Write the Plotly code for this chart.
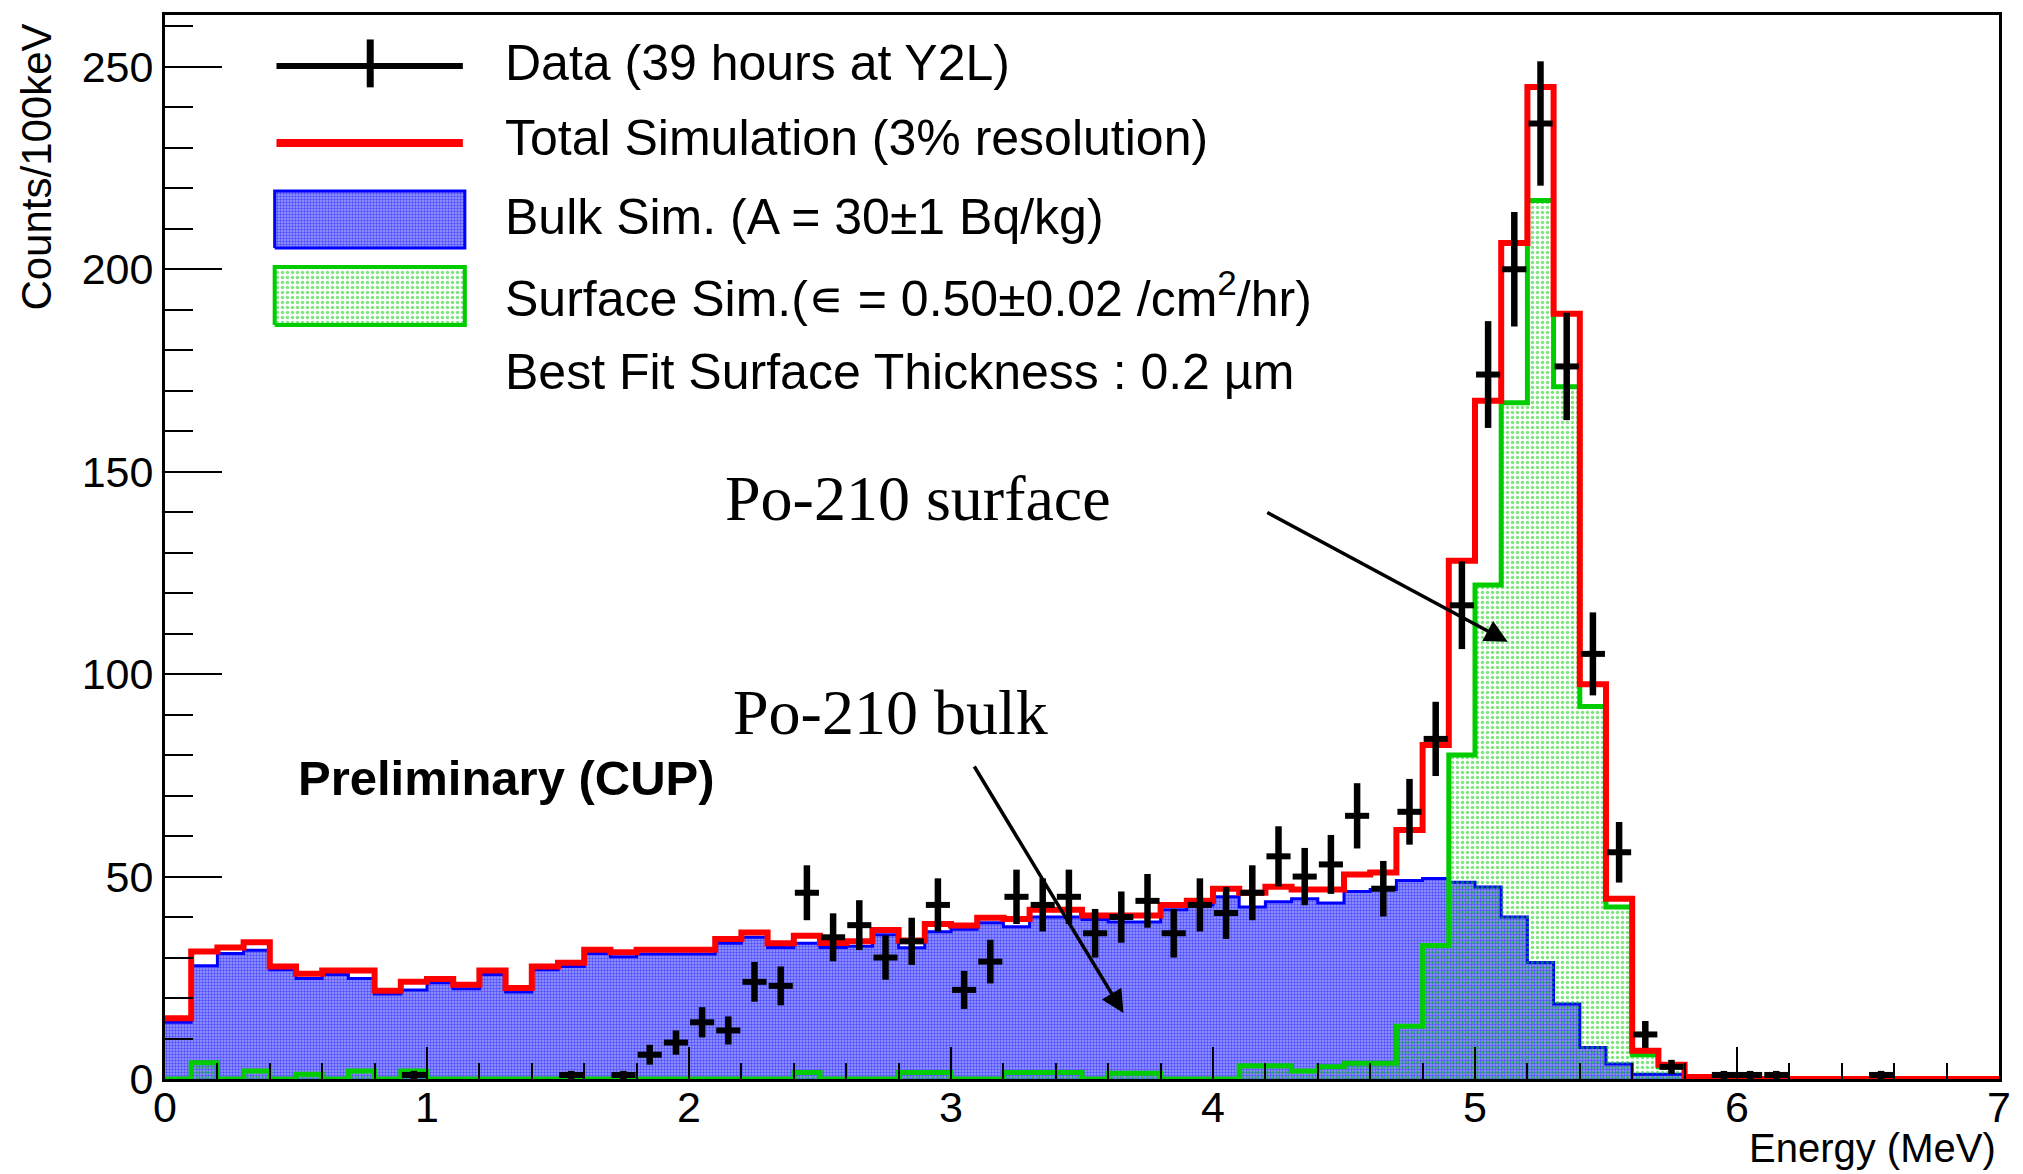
import plotly.graph_objects as go

# ---------------- data ----------------
N_BINS = 70
BIN_W = 0.1
X_MAX = 7.0
bin_left = [round(i * BIN_W, 1) for i in range(N_BINS)]

# Total simulation (red)
total_sim = [15.0, 31.5, 32.5, 33.8, 27.8, 26.0, 26.8, 26.8, 21.8, 24.0,
             24.7, 23.3, 26.8, 22.5, 27.8, 28.7, 31.9, 31.3, 31.9, 31.9,
             31.9, 34.6, 36.2, 33.5, 35.4, 33.6, 34.0, 36.8, 34.2, 38.3,
             37.9, 39.8, 39.5, 41.8, 41.8, 40.4, 40.4, 40.4, 43.0, 44.0,
             47.0, 46.0, 47.5, 46.8, 46.8, 50.5, 51.0, 61.5, 82.5, 128.0,
             167.5, 206.5, 245.0, 189.0, 97.5, 44.5, 7.0, 3.5, 0.5, 0.0,
             0.0, 0.0, 0.0, 0.0, 0.0, 0.0, 0.0, 0.0, 0.0, 0.0]

# Bulk simulation (blue)
bulk_sim = [14.0, 28.0, 31.0, 31.8, 27.0, 24.8, 25.8, 24.8, 21.0, 22.0,
            23.8, 22.3, 25.8, 21.5, 27.0, 27.8, 31.0, 30.2, 30.9, 30.9,
            30.9, 33.5, 35.0, 32.5, 33.5, 32.5, 32.8, 35.6, 32.4, 36.4,
            37.0, 38.6, 37.6, 40.0, 40.0, 39.4, 38.8, 38.8, 41.8, 43.0,
            45.0, 42.5, 43.8, 44.5, 43.5, 46.3, 46.8, 49.0, 49.5, 48.6,
            47.4, 40.0, 28.8, 18.5, 7.8, 3.7, 1.2, 1.2, 0.0, 0.0,
            0.0, 0.0, 0.0, 0.0, 0.0, 0.0, 0.0, 0.0, 0.0, 0.0]

# Surface simulation (green)
surface_sim = [0.0, 4.0, 0.0, 2.0, 0.0, 1.2, 0.0, 2.0, 0.0, 2.0,
               0.0, 0.0, 0.0, 0.0, 0.0, 0.0, 0.0, 0.0, 0.0, 0.0,
               0.0, 0.0, 0.0, 0.0, 1.6, 0.0, 0.0, 0.0, 1.6, 1.6,
               0.0, 0.0, 1.6, 1.6, 1.6, 0.0, 1.4, 1.4, 0.0, 0.0,
               0.0, 3.3, 3.3, 2.0, 3.0, 3.9, 3.9, 13.0, 33.0, 80.0,
               122.0, 167.0, 217.0, 171.0, 92.0, 42.5, 6.0, 3.0, 0.0, 0.0,
               0.0, 0.0, 0.0, 0.0, 0.0, 0.0, 0.0, 0.0, 0.0, 0.0]

# Data (39 hours at Y2L); None = empty bin
data_counts = [None, None, None, None, None, None, None, None, None, 1,
               None, None, None, None, None, 1, None, 1, 6, 9,
               14, 12, 24, 23, 46, 35, 38, 30, 34, 43,
               22, 29, 45, 43, 45, 36, 40, 44, 36, 43,
               41, 46, 55, 50, 53, 65, 47, 66, 84, 117,
               174, 200, 236, 176, 105, 56, 11, 3, None, 1,
               1, 1, None, None, None, 1, None, None, None, None]
data_err = [None, None, None, None, None, None, None, None, None, 1.0,
            None, None, None, None, None, 1.0, None, 1.0, 2.45, 3.0,
            3.74, 3.46, 4.9, 4.8, 6.78, 5.92, 6.16, 5.48, 5.83, 6.56,
            4.69, 5.39, 6.71, 6.56, 6.71, 6.0, 6.32, 6.63, 6.0, 6.56,
            6.4, 6.78, 7.42, 7.07, 7.28, 8.06, 6.86, 8.12, 9.17, 10.82,
            13.19, 14.14, 15.36, 13.27, 10.25, 7.48, 3.32, 1.73, None, 1.0,
            1.0, 1.0, None, None, None, 1.0, None, None, None, None]

x_ticks = [0, 1, 2, 3, 4, 5, 6, 7]
y_ticks = [0, 50, 100, 150, 200, 250]

legend_labels = ["Data (39 hours at Y2L)",
                 "Total Simulation (3% resolution)",
                 "Bulk Sim. (A = 30±1 Bq/kg)",
                 "Surface Sim.(∊ = 0.50±0.02 /cm<sup>2</sup>/hr)",
                 "Best Fit Surface Thickness : 0.2 µm"]

# ---------------- styling ----------------
SANS = "Liberation Sans, Arial, Helvetica, sans-serif"
SERIF = "Liberation Serif, Times New Roman, serif"
BLUE = "#0000ff"
GREEN = "#00cc00"
RED = "#ff0000"
BLUE_PATTERN = dict(shape=".", fgcolor=BLUE, bgcolor="rgba(0,0,255,0.38)",
                    size=3, solidity=0.5)
GREEN_PATTERN = dict(shape=".", fgcolor=GREEN, bgcolor="rgba(0,0,0,0)",
                     size=5, solidity=0.38)


def step_xy(vals):
    return bin_left + [X_MAX], list(vals) + [vals[-1]]


fig = go.Figure()

bx, by = step_xy(bulk_sim)
fig.add_trace(go.Scatter(
    x=bx, y=by, mode="lines", line=dict(shape="hv", color=BLUE, width=3),
    fill="tozeroy", fillcolor="rgba(0,0,0,0)", fillpattern=BLUE_PATTERN,
    showlegend=False, hoverinfo="skip"))

gx, gy = step_xy(surface_sim)
fig.add_trace(go.Scatter(
    x=gx, y=gy, mode="lines", line=dict(shape="hv", color=GREEN, width=5),
    fill="tozeroy", fillcolor="rgba(0,0,0,0)", fillpattern=GREEN_PATTERN,
    showlegend=False, hoverinfo="skip"))

rx, ry = step_xy(total_sim)
fig.add_trace(go.Scatter(
    x=rx, y=ry, mode="lines", line=dict(shape="hv", color=RED, width=6),
    showlegend=False, hoverinfo="skip"))

dx, dy, de = [], [], []
for xl, c, e in zip(bin_left, data_counts, data_err):
    if c is not None:
        dx.append(xl + BIN_W / 2)
        dy.append(c)
        de.append(e)
fig.add_trace(go.Scatter(
    x=dx, y=dy, mode="markers", marker=dict(size=2, color="black"),
    error_x=dict(type="constant", value=BIN_W * 0.46, thickness=6, width=0, color="black"),
    error_y=dict(type="data", array=de, thickness=6.5, width=0, color="black"),
    showlegend=False, hoverinfo="skip"))

# ---------------- legend (drawn manually, paper-like overlay axes) ----------------
box_x = [0.0598, 0.1635]
blue_box_y = [0.781, 0.8346]
green_box_y = [0.7086, 0.7632]
for (y0, y1), col, pat, lw in [(blue_box_y, BLUE, BLUE_PATTERN, 3),
                               (green_box_y, GREEN, GREEN_PATTERN, 4)]:
    fig.add_trace(go.Scatter(
        x=[box_x[0], box_x[1], box_x[1], box_x[0], box_x[0]],
        y=[y0, y0, y1, y1, y0], xaxis="x2", yaxis="y2",
        mode="lines", line=dict(color=col, width=lw), fill="toself",
        fillcolor="rgba(0,0,0,0)", fillpattern=pat,
        showlegend=False, hoverinfo="skip"))

shapes = [
    dict(type="line", xref="paper", yref="paper", x0=0.0608, x1=0.1624,
         y0=0.952, y1=0.952, line=dict(color="black", width=6)),
    dict(type="line", xref="paper", yref="paper", x0=0.1119, x1=0.1119,
         y0=0.932, y1=0.977, line=dict(color="black", width=7)),
    dict(type="line", xref="paper", yref="paper", x0=0.0608, x1=0.1624,
         y0=0.8797, y1=0.8797, line=dict(color=RED, width=8)),
]

legend_y = [0.9549, 0.8844, 0.8102, 0.7368, 0.6645]
annotations = []
for lab, yy in zip(legend_labels, legend_y):
    annotations.append(dict(text=lab, xref="paper", yref="paper", x=0.1841, y=yy,
                            xanchor="left", yanchor="middle", showarrow=False,
                            font=dict(family=SANS, size=50, color="black")))

annotations += [
    dict(text="<b>Preliminary (CUP)</b>", xref="paper", yref="paper", x=0.0717, y=0.283,
         xanchor="left", yanchor="middle", showarrow=False,
         font=dict(family=SANS, size=49, color="black")),
    dict(text="Po-210 surface", xref="paper", yref="paper", x=0.3042, y=0.546,
         xanchor="left", yanchor="middle", showarrow=False,
         font=dict(family=SERIF, size=64, color="black")),
    dict(text="Po-210 bulk", xref="paper", yref="paper", x=0.3085, y=0.344,
         xanchor="left", yanchor="middle", showarrow=False,
         font=dict(family=SERIF, size=64, color="black")),
    dict(text="", x=5.125, y=108, xref="x", yref="y", ax=-242, ay=-130,
         showarrow=True, arrowhead=2, arrowsize=1.3, arrowwidth=3.5, arrowcolor="black"),
    dict(text="", x=3.658, y=16.3, xref="x", yref="y", ax=-150, ay=-248,
         showarrow=True, arrowhead=2, arrowsize=1.3, arrowwidth=3.5, arrowcolor="black"),
    dict(text="Counts/100keV", xref="paper", yref="paper", x=-0.0701, y=0.857,
         xanchor="center", yanchor="middle", textangle=-90, showarrow=False,
         font=dict(family=SANS, size=42, color="black")),
    dict(text="Energy (MeV)", xref="paper", yref="paper", x=0.9995, y=-0.0645,
         xanchor="right", yanchor="middle", showarrow=False,
         font=dict(family=SANS, size=40, color="black")),
]

fig.update_layout(
    width=2023, height=1174,
    margin=dict(l=165, r=17, t=15, b=95),
    paper_bgcolor="white", plot_bgcolor="white",
    showlegend=False,
    shapes=shapes, annotations=annotations,
    xaxis=dict(range=[0, X_MAX], tickvals=x_ticks, ticks="inside", ticklen=32,
               tickwidth=2, tickcolor="black", showgrid=False, zeroline=False,
               showline=True, linecolor="black", linewidth=3, mirror=True,
               ticklabelstandoff=-12,
               tickfont=dict(family=SANS, size=43, color="black"),
               minor=dict(dtick=0.2, ticks="inside", ticklen=16, tickwidth=2,
                          tickcolor="black", showgrid=False)),
    yaxis=dict(range=[0, 262.8], tickvals=y_ticks, ticks="inside", ticklen=57,
               tickwidth=2, tickcolor="black", showgrid=False, zeroline=False,
               showline=True, linecolor="black", linewidth=3, mirror=True,
               tickfont=dict(family=SANS, size=43, color="black"),
               minor=dict(dtick=10, ticks="inside", ticklen=28, tickwidth=2,
                          tickcolor="black", showgrid=False)),
    xaxis2=dict(range=[0, 1], overlaying="x", visible=False, fixedrange=True),
    yaxis2=dict(range=[0, 1], overlaying="y", visible=False, fixedrange=True),
)

fig.write_html("out.html")
